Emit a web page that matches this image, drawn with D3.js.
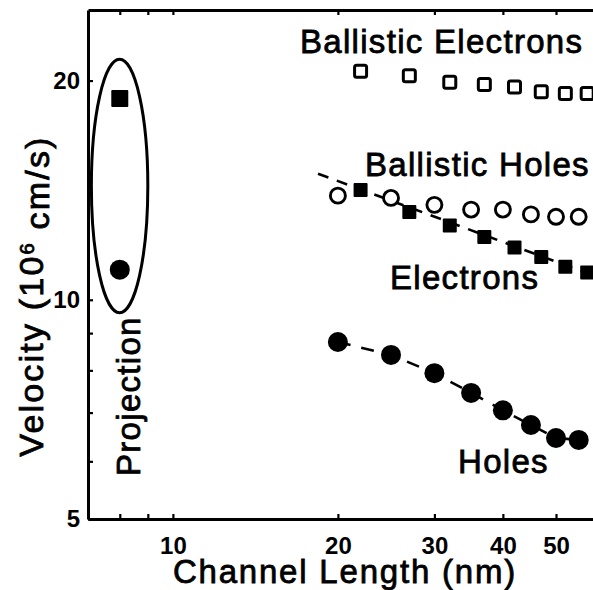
<!DOCTYPE html>
<html>
<head>
<meta charset="utf-8">
<script src="https://cdn.jsdelivr.net/npm/d3@7"></script>
<style>
  body { margin: 0; background: #fff; }
  svg { display: block; }
  text { font-family: "Liberation Sans", Arial, Helvetica, sans-serif; fill: #000; }
</style>
</head>
<body>
<svg id="chart" width="593" height="590"></svg>
<script>
// Channel lengths (nm) of the two measurement sets
const lengthsA = [20, 25, 30, 35, 40, 45, 50, 55];
const lengthsB = [22, 27, 32, 37, 42, 47, 52, 57];

// Velocities (10^6 cm/s)
const ballisticElectrons = [20.6, 20.3, 19.9, 19.75, 19.6, 19.3, 19.2, 19.2];
const ballisticHoles     = [13.9, 13.8, 13.5, 13.3, 13.3, 13.1, 13.0, 13.0];
const electrons          = [14.15, 13.2, 12.65, 12.2, 11.8, 11.45, 11.1, 10.9];
const holes              = [8.75, 8.4, 7.93, 7.45, 7.05, 6.73, 6.46, 6.42];

// Projected values at the shortest length
const projectionLength = 8;
const projectionElectron = 18.9;
const projectionHole = 11.0;

// Power-law trend through the electron data
const electronTrend = [[18.4, 14.9], [58.5, 10.8]];

// Extent of the outline drawn round the projected points (data units)
const projectionOutline = { x: [7.1, 9.0], y: [9.6, 21.4] };

// Axis ticks
const xTicks = [10, 20, 30, 40, 50];
const xMinorTicks = [8, 9];
const yTicks = [5, 10, 20];
const yMinorTicks = [6, 7, 8, 9];

const svg = d3.select("#chart");

const x = d3.scaleLog().domain([7, 60]).range([88, 599.4]);
const y = d3.scaleLog().domain([5, 25]).range([519, 10]);

// ---- axes (ticks point inward) ----
const axisBottomG = svg.append("g").attr("transform", `translate(0,${y(5)})`)
  .call(d3.axisBottom(x)
    .tickValues(xMinorTicks.concat(xTicks))
    .tickSizeInner(-5).tickSizeOuter(0).tickPadding(18)
    .tickFormat(d => xTicks.includes(d) ? d : ""));

const axisTopG = svg.append("g").attr("transform", `translate(0,${y(25)})`)
  .call(d3.axisTop(x)
    .tickValues(xMinorTicks.concat(xTicks))
    .tickSizeInner(-5).tickSizeOuter(0).tickFormat(""));

const axisLeftG = svg.append("g").attr("transform", `translate(${x(7)},0)`)
  .call(d3.axisLeft(y)
    .tickValues(yMinorTicks.concat(yTicks))
    .tickSizeInner(-5).tickSizeOuter(0).tickPadding(8)
    .tickFormat(d => yTicks.includes(d) ? d : ""));

[axisBottomG, axisTopG, axisLeftG].forEach(g => {
  g.select(".domain").attr("stroke", "#000").attr("stroke-width", 3);
  g.selectAll(".tick line").attr("stroke", "#000").attr("stroke-width", 2.2);
  g.selectAll(".tick text")
    .style("font-size", "24px").style("font-weight", "bold")
    .attr("fill", "#000");
});

// ---- trend lines ----
const line = d3.line().x(d => x(d[0])).y(d => y(d[1]));

svg.append("path")
  .datum(electronTrend)
  .attr("d", line)
  .attr("fill", "none").attr("stroke", "#000")
  .attr("stroke-width", 2.6).attr("stroke-dasharray", "11,9");

svg.append("path")
  .datum(lengthsA.map((l, i) => [l, holes[i]]))
  .attr("d", line)
  .attr("fill", "none").attr("stroke", "#000")
  .attr("stroke-width", 2.6).attr("stroke-dasharray", "13,11");

// ---- markers ----
function squares(lengths, values, size, filled) {
  svg.append("g").selectAll("rect")
    .data(lengths.map((l, i) => [l, values[i]]))
    .join("rect")
    .attr("x", d => x(d[0]) - size / 2)
    .attr("y", d => y(d[1]) - size / 2)
    .attr("width", size).attr("height", size)
    .attr("rx", filled ? 1 : 2)
    .attr("fill", filled ? "#000" : "#fff")
    .attr("stroke", "#000")
    .attr("stroke-width", filled ? 0 : 3);
}

function circles(lengths, values, r, filled) {
  svg.append("g").selectAll("circle")
    .data(lengths.map((l, i) => [l, values[i]]))
    .join("circle")
    .attr("cx", d => x(d[0]))
    .attr("cy", d => y(d[1]))
    .attr("r", r)
    .attr("fill", filled ? "#000" : "#fff")
    .attr("stroke", "#000")
    .attr("stroke-width", filled ? 0 : 2.9);
}

squares(lengthsB, ballisticElectrons, 12, false);
circles(lengthsA, ballisticHoles, 7.5, false);
squares(lengthsB, electrons, 14, true);
circles(lengthsA, holes, 10, true);

squares([projectionLength], [projectionElectron], 17, true);
circles([projectionLength], [projectionHole], 10, true);

// outline round the projected points
const ox0 = x(projectionOutline.x[0]), ox1 = x(projectionOutline.x[1]);
const oy0 = y(projectionOutline.y[1]), oy1 = y(projectionOutline.y[0]);
svg.append("ellipse")
  .attr("cx", (ox0 + ox1) / 2).attr("cy", (oy0 + oy1) / 2)
  .attr("rx", (ox1 - ox0) / 2).attr("ry", (oy1 - oy0) / 2)
  .attr("fill", "none").attr("stroke", "#000").attr("stroke-width", 3);

// ---- labels ----
const labelStyle = sel => sel
  .style("font-size", "33px").style("letter-spacing", "1.3px")
  .attr("stroke", "#000").attr("stroke-width", 0.8);

svg.append("text").attr("x", 300).attr("y", 53).text("Ballistic Electrons").call(labelStyle);
svg.append("text").attr("x", 365).attr("y", 176).text("Ballistic Holes").call(labelStyle);
svg.append("text").attr("x", 390).attr("y", 289).text("Electrons").call(labelStyle);
svg.append("text").attr("x", 458).attr("y", 473).text("Holes").call(labelStyle);

svg.append("text")
  .attr("transform", "translate(140,476) rotate(-90)")
  .text("Projection").call(labelStyle);

// axis titles
svg.append("text")
  .attr("x", 345).attr("y", 583).attr("text-anchor", "middle")
  .style("font-size", "33px").style("letter-spacing", "1.8px")
  .attr("stroke", "#000").attr("stroke-width", 0.8)
  .text("Channel Length (nm)");

const yTitle = svg.append("text")
  .attr("transform", "translate(43,296) rotate(-90)")
  .attr("text-anchor", "middle")
  .style("font-size", "34px").style("letter-spacing", "2.2px")
  .attr("stroke", "#000").attr("stroke-width", 0.8);
yTitle.append("tspan").text("Velocity (10");
yTitle.append("tspan").attr("dy", "-0.45em").style("font-size", "20px").text("6");
yTitle.append("tspan").attr("dy", "0.45em").text(" cm/s)");
</script>
</body>
</html>
